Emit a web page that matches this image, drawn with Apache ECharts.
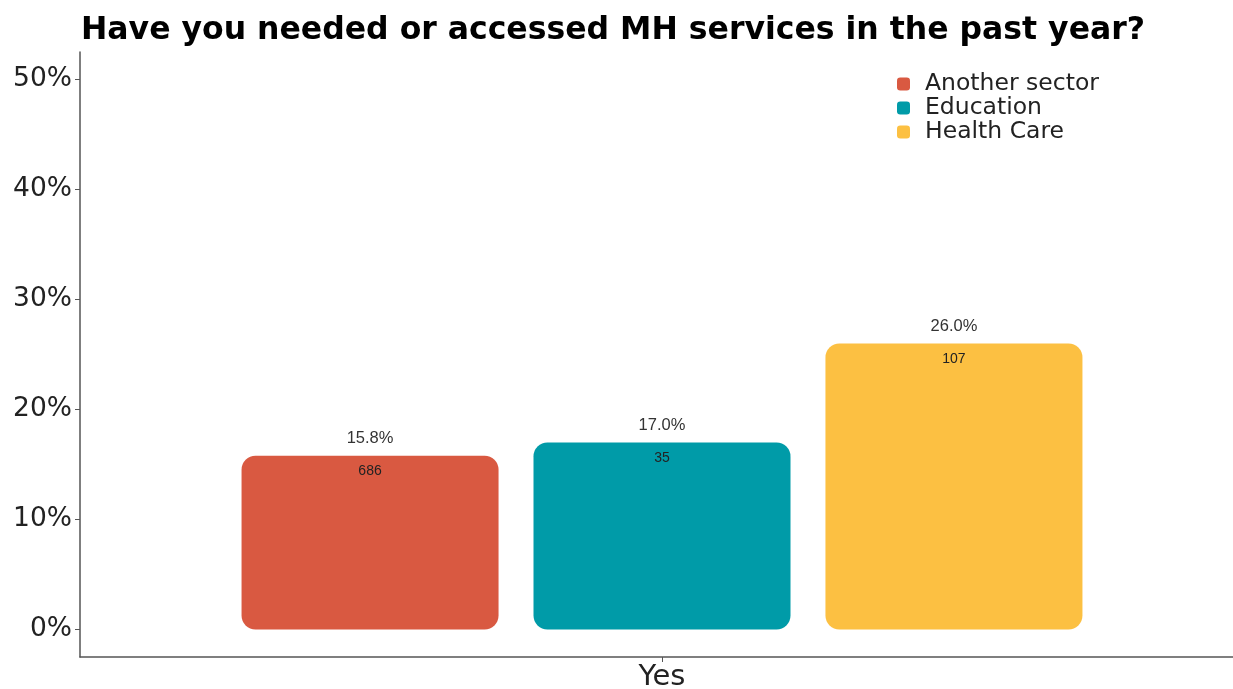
<!DOCTYPE html>
<html>
<head>
<meta charset="utf-8">
<script src="https://cdn.jsdelivr.net/npm/echarts@6/dist/echarts.min.js"></script>
<style>
  html, body { margin: 0; padding: 0; background: #fff; overflow: hidden; }
  #chart { width: 1244px; height: 689px; }
</style>
</head>
<body>
<div id="chart"></div>
<script>
// Share of respondents who needed or accessed mental health services, by sector
const categories = ['Yes'];
const sectors = ['Another sector', 'Education', 'Health Care'];
const sectorColors = ['#D95941', '#009BA8', '#FCC042'];
const percentValues = [15.8, 17.0, 26.0];
const respondentCounts = [686, 35, 107];
const yTickValues = [0, 10, 20, 30, 40, 50];

const axisFont = 'DejaVu Sans';
const valueFont = '"Liberation Sans", Arial, sans-serif';

const chart = echarts.init(document.getElementById('chart'), null, { renderer: 'canvas' });

const series = sectors.map((name, i) => ({
  name: name,
  type: 'bar',
  data: [percentValues[i]],
  barWidth: 257,
  barGap: '13.6%',
  itemStyle: { color: sectorColors[i], borderRadius: 14 },
  label: {
    show: true,
    position: ['50%', -34],
    align: 'center',
    verticalAlign: 'top',
    formatter: () => '{p|' + percentValues[i].toFixed(1) + '%}\n{n|' + respondentCounts[i] + '}',
    rich: {
      p: { fontFamily: valueFont, fontSize: 16.5, color: '#333', lineHeight: 33, align: 'center' },
      n: { fontFamily: valueFont, fontSize: 14, color: '#222', lineHeight: 33, align: 'center' }
    }
  },
  emphasis: { disabled: true }
}));

chart.setOption({
  animation: false,
  backgroundColor: '#fff',
  title: {
    text: 'Have you needed or accessed MH services in the past year?',
    left: 76,
    top: 10,
    textStyle: { fontFamily: axisFont, fontWeight: 'bold', fontSize: 31.5, color: '#000' }
  },
  legend: {
    orient: 'vertical',
    left: 892,
    top: 67,
    itemWidth: 13,
    itemHeight: 13,
    itemGap: 0,
    icon: 'roundRect',
    data: sectors,
    textStyle: { fontFamily: axisFont, fontSize: 23.5, color: '#222', lineHeight: 22, padding: [0, 0, 0, 10] }
  },
  grid: { left: 80, right: 0, top: 52, bottom: 32, containLabel: false, outerBoundsMode: 'none' },
  xAxis: {
    type: 'category',
    data: categories,
    axisLine: { onZero: false, lineStyle: { color: '#555', width: 1.5 } },
    axisTick: { show: true, alignWithLabel: true, length: 5, lineStyle: { color: '#555' } },
    axisLabel: { fontFamily: axisFont, fontSize: 29, color: '#222', margin: 6 }
  },
  yAxis: {
    type: 'value',
    min: -2.5,
    max: 52.5,
    splitLine: { show: false },
    axisLine: { show: true, onZero: false, lineStyle: { color: '#555', width: 1.5 } },
    axisTick: { show: true, length: 5, lineStyle: { color: '#555' }, customValues: yTickValues },
    axisLabel: {
      fontFamily: axisFont,
      fontSize: 26.5,
      color: '#222',
      margin: 8,
      customValues: yTickValues,
      formatter: v => (yTickValues.includes(v) ? v + '%' : '')
    }
  },
  series: series
});
</script>
</body>
</html>
